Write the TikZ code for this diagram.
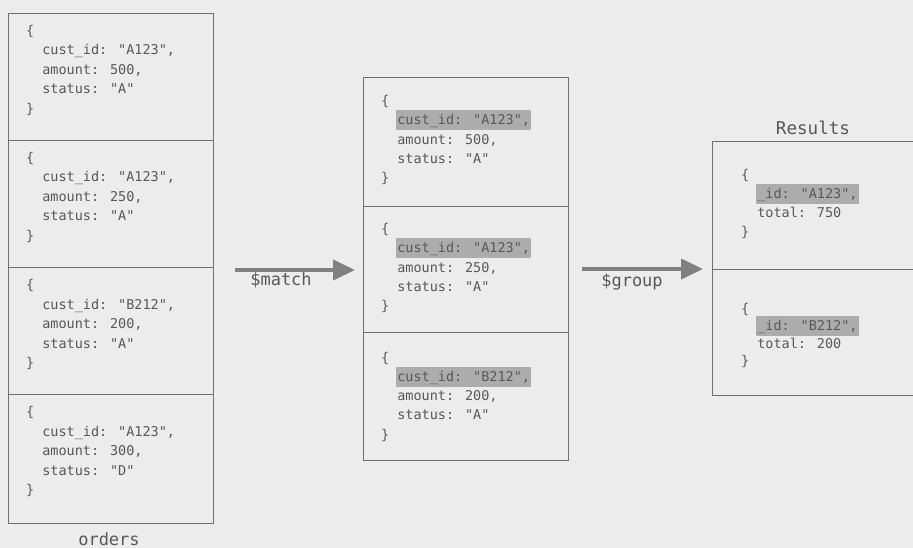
\documentclass[tikz,border=0pt]{standalone}
\usepackage{fontspec}
\newfontfamily\mono{DejaVu Sans Mono}
\usetikzlibrary{arrows.meta}
\definecolor{bg}{RGB}{236,236,236}
\definecolor{txt}{RGB}{88,88,88}
\definecolor{edge}{RGB}{112,112,112}
\definecolor{hl}{RGB}{172,172,172}
\definecolor{arr}{RGB}{128,128,128}
\newcommand\hlbox[1]{{\fboxsep=1pt\kern-1pt\colorbox{hl}{\rule[-4.5pt]{0pt}{18pt}#1}\kern-1pt}}
\newcommand\ind{\hspace*{16.3pt}}
\newcommand\docnode[5]{\foreach \t [count=\i] in {#5} {\node[doctext] (#1-\i) at (#2, {#3+(\i-1)*#4}) {\t};}}
\begin{document}
\begin{tikzpicture}[x=1pt, y=-1pt,
  docbox/.style={draw=edge, line width=0.9pt, minimum width=205pt, anchor=north west, inner sep=0pt, outer sep=0pt},
  doctext/.style={anchor=base west, inner sep=0pt, outer sep=0pt, text=txt, font=\mono\fontsize{13.5}{16}\selectfont},
  lbl/.style={anchor=base, inner sep=0pt, text=txt, font=\mono\fontsize{17}{20}\selectfont},
  flow/.style={draw=arr, line width=4pt, -{Triangle[length=22pt,width=20pt]}}]
\useasboundingbox (0,0) rectangle (913,548);
\fill[bg] (0,0) rectangle (913,548);

% orders collection
\node[docbox, minimum height=127pt] (o1) at (8,13) {};
\node[docbox, minimum height=127pt] (o2) at (8,140) {};
\node[docbox, minimum height=127pt] (o3) at (8,267) {};
\node[docbox, minimum height=129pt] (o4) at (8,394) {};
\docnode{to1}{26}{35.5}{19.5}{{\{},{\ind cust\_id: "A123",},{\ind amount: 500,},{\ind status: "A"},{\}}}
\docnode{to2}{26}{162.5}{19.5}{{\{},{\ind cust\_id: "A123",},{\ind amount: 250,},{\ind status: "A"},{\}}}
\docnode{to3}{26}{289.5}{19.5}{{\{},{\ind cust\_id: "B212",},{\ind amount: 200,},{\ind status: "A"},{\}}}
\docnode{to4}{26}{416.5}{19.5}{{\{},{\ind cust\_id: "A123",},{\ind amount: 300,},{\ind status: "D"},{\}}}
\node[lbl] (orders) at (109,545) {orders};

% after $match
\node[docbox, minimum height=129pt] (m1) at (363,77) {};
\node[docbox, minimum height=126pt] (m2) at (363,206) {};
\node[docbox, minimum height=128pt] (m3) at (363,332) {};
\docnode{tm1}{381}{105.5}{19.3}{{\{},{\ind\hlbox{cust\_id: "A123",}},{\ind amount: 500,},{\ind status: "A"},{\}}}
\docnode{tm2}{381}{233.5}{19.3}{{\{},{\ind\hlbox{cust\_id: "A123",}},{\ind amount: 250,},{\ind status: "A"},{\}}}
\docnode{tm3}{381}{362}{19.3}{{\{},{\ind\hlbox{cust\_id: "B212",}},{\ind amount: 200,},{\ind status: "A"},{\}}}

% results
\node[docbox, minimum height=128pt] (r1) at (712,141) {};
\node[docbox, minimum height=126pt] (r2) at (712,269) {};
\docnode{tr1}{741}{179.5}{19}{{\{},{\ind\hlbox{\_id: "A123",}},{\ind total: 750},{\}}}
\docnode{tr2}{741}{313}{17.5}{{\{},{\ind\hlbox{\_id: "B212",}},{\ind total: 200},{\}}}
\node[lbl, font=\mono\fontsize{17.6}{20}\selectfont] (results) at (813,134.4) {Results};

% stage arrows
\coordinate (ma) at (235,270);
\coordinate (mb) at (355,270);
\coordinate (ga) at (582,269);
\coordinate (gb) at (703,269);
\draw[flow] (ma) -- (mb);
\draw[flow] (ga) -- (gb);
\node[lbl] (match) at (281,285.5) {\$match};
\node[lbl] (group) at (632,286) {\$group};
\end{tikzpicture}
\end{document}
